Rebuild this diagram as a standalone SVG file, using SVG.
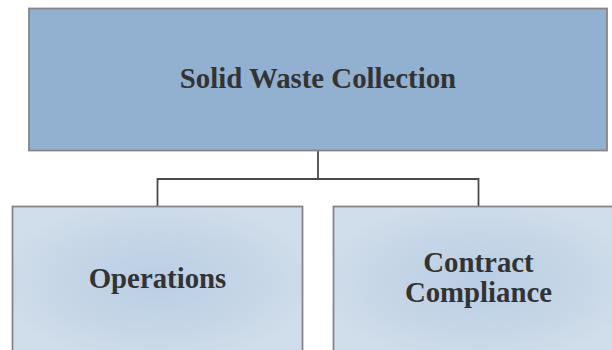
<svg xmlns="http://www.w3.org/2000/svg" width="612" height="350" viewBox="0 0 612 350">
  <style>
    .box { stroke: #858585; stroke-width: 1.8; }
    .top { fill: #92B0D0; }
    .sub { fill: url(#subGrad); }
    .lbl { font-family: "Liberation Serif", "Times New Roman", serif; font-weight: bold; font-size: 28.8px; fill: #333333; text-anchor: middle; }
    .conn { fill: none; stroke: #4a4a4a; stroke-width: 1.8; }
  </style>
  <defs>
    <radialGradient id="subGrad" cx="0.5" cy="0.5" r="0.55">
      <stop offset="0" stop-color="#B9CEE4"/>
      <stop offset="0.6" stop-color="#C6D6E7"/>
      <stop offset="1" stop-color="#D0DDEA"/>
    </radialGradient>
  </defs>
  <rect width="612" height="350" fill="#FFFFFF"/>
  <g id="connectors">
    <path class="conn" d="M318,150 V179 M157.5,206 V179 H478.5 V206"/>
  </g>
  <g id="node-solid-waste">
    <rect class="box top" x="29" y="8.5" width="578" height="142"/>
    <text class="lbl" x="318" y="88">Solid Waste Collection</text>
  </g>
  <g id="node-operations">
    <rect class="box sub" x="12.5" y="206.5" width="290" height="150"/>
    <text class="lbl" x="157.5" y="288">Operations</text>
  </g>
  <g id="node-contract">
    <rect class="box sub" x="333.5" y="206.5" width="290" height="150"/>
    <text class="lbl" x="478.5" y="272">Contract</text>
    <text class="lbl" x="478.5" y="302">Compliance</text>
  </g>
</svg>
